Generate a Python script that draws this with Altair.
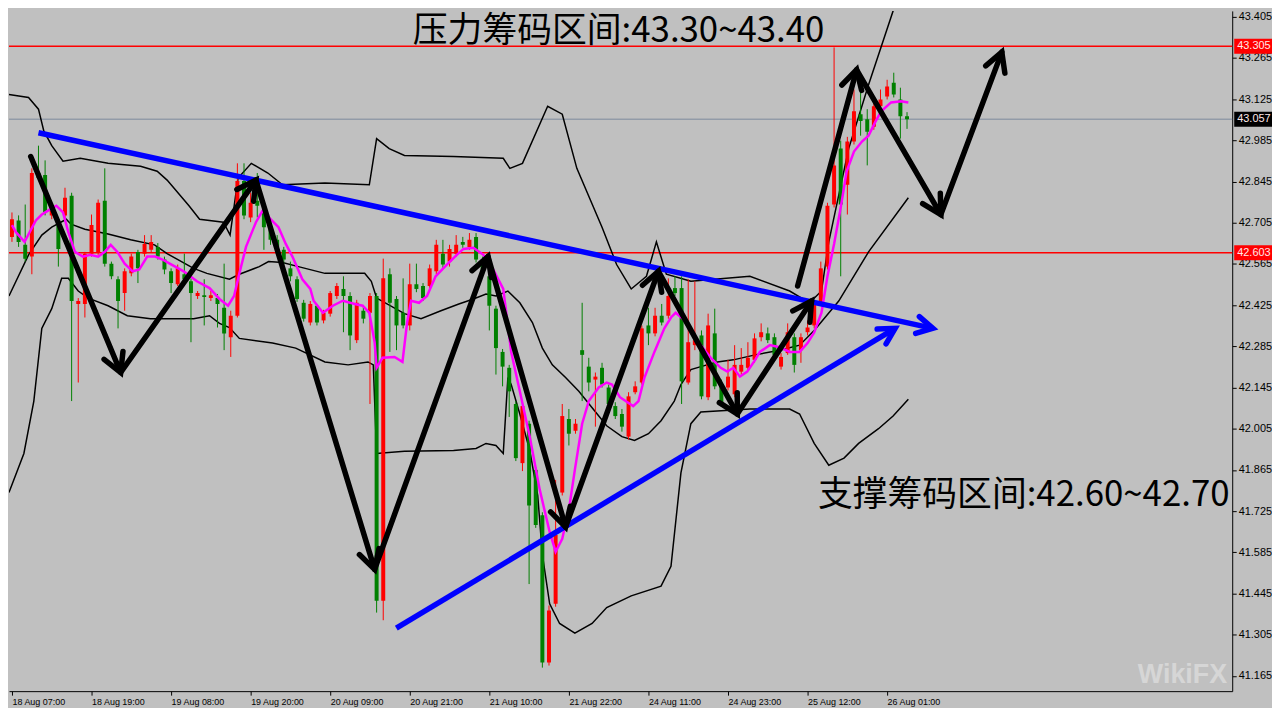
import math
import altair as alt
import pandas as pd

# ---------------- data ----------------
opens = [42.657, 42.713, 42.630, 42.590, 42.874, 42.867, 42.730, 42.700, 42.730, 42.797,
         42.429, 42.429, 42.600, 42.606, 42.780, 42.566, 42.513, 42.466, 42.533, 42.606,
         42.600, 42.613, 42.623, 42.580, 42.540, 42.496, 42.530, 42.506, 42.456, 42.459,
         42.449, 42.449, 42.416, 42.316, 42.389, 42.847, 42.723, 42.780, 42.747, 42.690,
         42.647, 42.613, 42.550, 42.513, 42.433, 42.366, 42.423, 42.373, 42.396, 42.456,
         42.480, 42.456, 42.306, 42.406, 42.399, 42.456, 41.420, 42.530, 42.446, 42.399,
         42.356, 42.496, 42.490, 42.490, 42.540, 42.600, 42.573, 42.600, 42.640, 42.623,
         42.657, 42.580, 42.523, 42.413, 42.266, 42.212, 42.089, 41.888, 42.022, 41.865,
         41.711, 41.210, 41.410, 41.788, 42.038, 41.998, 42.272, 42.216, 42.172, 42.212,
         42.145, 42.082, 42.055, 41.978, 42.129, 42.162, 42.356, 42.329, 42.389, 42.389,
         42.483, 42.483, 42.162, 42.289, 42.322, 42.112, 42.329, 42.155, 42.145, 42.122,
         42.199, 42.212, 42.239, 42.316, 42.329, 42.316, 42.216, 42.262, 42.316, 42.272,
         42.333, 42.356, 42.433, 42.556, 42.767, 42.957, 42.834, 42.981, 43.074, 43.057,
         43.031, 43.101, 43.134, 43.181, 43.124, 43.067]
closes = [42.717, 42.640, 42.583, 42.874, 42.857, 42.740, 42.747, 42.616, 42.790, 42.439,
          42.439, 42.600, 42.697, 42.773, 42.566, 42.523, 42.439, 42.540, 42.590, 42.550,
          42.633, 42.640, 42.590, 42.546, 42.500, 42.550, 42.513, 42.466, 42.466, 42.453,
          42.459, 42.429, 42.329, 42.389, 42.847, 42.730, 42.773, 42.763, 42.690, 42.647,
          42.623, 42.580, 42.523, 42.446, 42.379, 42.429, 42.366, 42.399, 42.466, 42.490,
          42.456, 42.322, 42.433, 42.379, 42.456, 41.420, 42.516, 42.433, 42.356, 42.356,
          42.496, 42.480, 42.449, 42.550, 42.630, 42.563, 42.616, 42.630, 42.630, 42.647,
          42.580, 42.546, 42.423, 42.279, 42.216, 42.132, 41.905, 42.082, 41.744, 41.678,
          41.210, 41.387, 41.644, 42.048, 41.988, 42.022, 42.256, 42.162, 42.182, 42.155,
          42.089, 42.048, 42.012, 42.115, 42.149, 42.346, 42.329, 42.389, 42.366, 42.456,
          42.466, 42.166, 42.299, 42.306, 42.115, 42.356, 42.149, 42.089, 42.182, 42.222,
          42.222, 42.246, 42.312, 42.333, 42.306, 42.256, 42.249, 42.333, 42.222, 42.316,
          42.349, 42.429, 42.550, 42.763, 42.900, 42.767, 42.981, 43.084, 43.051, 43.014,
          43.101, 43.124, 43.168, 43.141, 43.067, 43.057]
highs = [42.740, 42.730, 42.767, 42.890, 42.967, 42.917, 42.757, 42.707, 42.824, 42.807,
         42.449, 42.606, 42.733, 42.784, 42.890, 42.573, 42.523, 42.550, 42.600, 42.613,
         42.663, 42.663, 42.636, 42.590, 42.550, 42.563, 42.600, 42.516, 42.473, 42.513,
         42.473, 42.463, 42.566, 42.406, 42.907, 42.907, 42.807, 42.874, 42.773, 42.707,
         42.663, 42.623, 42.573, 42.523, 42.443, 42.439, 42.429, 42.409, 42.473, 42.500,
         42.523, 42.469, 42.443, 42.423, 42.466, 42.466, 42.583, 42.550, 42.456, 42.516,
         42.566, 42.566, 42.500, 42.563, 42.647, 42.647, 42.630, 42.663, 42.657, 42.670,
         42.670, 42.590, 42.533, 42.423, 42.276, 42.222, 42.099, 42.095, 42.032, 41.875,
         41.721, 41.404, 41.831, 42.089, 42.072, 42.038, 42.433, 42.246, 42.196, 42.229,
         42.155, 42.095, 42.072, 42.129, 42.166, 42.356, 42.416, 42.416, 42.429, 42.516,
         42.523, 42.523, 42.513, 42.506, 42.339, 42.396, 42.413, 42.172, 42.239, 42.289,
         42.279, 42.299, 42.329, 42.363, 42.349, 42.329, 42.262, 42.363, 42.329, 42.329,
         42.373, 42.439, 42.573, 42.773, 43.301, 42.984, 42.997, 43.158, 43.191, 43.091,
         43.114, 43.158, 43.191, 43.215, 43.164, 43.081]
lows = [42.640, 42.623, 42.573, 42.530, 42.850, 42.730, 42.717, 42.556, 42.717, 42.099,
        42.162, 42.383, 42.590, 42.596, 42.556, 42.513, 42.346, 42.406, 42.523, 42.500,
        42.590, 42.603, 42.580, 42.530, 42.466, 42.490, 42.490, 42.299, 42.446, 42.356,
        42.439, 42.349, 42.272, 42.249, 42.383, 42.717, 42.707, 42.723, 42.613, 42.630,
        42.606, 42.563, 42.506, 42.436, 42.369, 42.356, 42.356, 42.363, 42.386, 42.446,
        42.333, 42.272, 42.296, 42.363, 42.089, 41.380, 41.354, 42.266, 42.272, 42.346,
        42.339, 42.469, 42.439, 42.480, 42.530, 42.550, 42.556, 42.590, 42.620, 42.613,
        42.570, 42.536, 42.339, 42.189, 42.149, 42.045, 41.895, 41.861, 41.477, 41.668,
        41.193, 41.200, 41.400, 41.778, 41.948, 41.988, 42.099, 42.132, 42.012, 42.145,
        42.079, 42.038, 41.995, 41.968, 42.122, 42.155, 42.289, 42.319, 42.356, 42.379,
        42.456, 42.089, 42.155, 42.272, 42.105, 42.102, 42.139, 42.079, 42.135, 42.112,
        42.189, 42.202, 42.229, 42.302, 42.296, 42.246, 42.206, 42.256, 42.196, 42.229,
        42.322, 42.346, 42.423, 42.546, 42.757, 42.523, 42.733, 42.971, 43.001, 42.900,
        43.021, 43.091, 43.124, 43.131, 42.991, 43.024]

tick_idx = [0, 12, 24, 36, 48, 60, 72, 84, 96, 108, 120, 132]
tick_labels = ["18 Aug 07:00", "18 Aug 19:00", "19 Aug 08:00", "19 Aug 20:00",
               "20 Aug 09:00", "20 Aug 21:00", "21 Aug 10:00", "21 Aug 22:00",
               "24 Aug 11:00", "24 Aug 23:00", "25 Aug 12:00", "26 Aug 01:00"]
price_ticks = [43.405, 43.265, 43.125, 42.985, 42.845, 42.705, 42.565, 42.425, 42.285,
               42.145, 42.005, 41.865, 41.725, 41.585, 41.445, 41.305, 41.165]

# pink moving average (bar index, price)
ma_idx = [0, 0.6, 1.9, 3.6, 4.5, 5.5, 6.7, 7.7, 8.5, 9.5, 10.7, 11.8, 13.0, 14.0, 14.9, 15.9,
          17.0, 18.2, 19.2, 20.4, 21.6, 22.7, 23.8, 25.9, 27.9, 29.8, 31.3, 32.6, 33.5, 34.3,
          35.3, 36.8, 37.9, 39.0, 40.2, 41.3, 42.3, 43.8, 45.0, 45.5, 46.9, 48.4, 49.9, 51.7,
          52.9, 53.9, 54.7, 55.0, 55.9, 57.7, 58.9, 59.6, 60.2, 61.4, 62.6, 63.9, 65.6, 67.1,
          68.1, 69.6, 71.1, 72.6, 74.1, 75.3, 76.6, 78.1, 79.6, 81.1, 82.0, 83.0, 84.1, 84.9,
          86.0, 87.0, 88.5, 89.7, 90.5, 91.7, 93.7, 94.5, 95.4, 96.9, 98.4, 99.4, 100.1, 101.2,
          102.4, 103.9, 105.4, 106.9, 107.9, 108.8, 109.8, 110.9, 112.1, 112.8, 114.3, 115.8,
          117.3, 118.8, 120.0, 121.0, 122.1, 123.0, 124.0, 125.0, 125.9, 127.0, 128.2, 129.2,
          130.2, 131.1, 132.6, 134.1, 135.2]
ma_val = [42.697, 42.673, 42.640, 42.713, 42.733, 42.747, 42.763, 42.740, 42.673, 42.606,
          42.590, 42.596, 42.590, 42.606, 42.630, 42.606, 42.566, 42.540, 42.546, 42.590,
          42.590, 42.580, 42.566, 42.540, 42.506, 42.483, 42.446, 42.423, 42.456, 42.533,
          42.623, 42.707, 42.750, 42.717, 42.690, 42.633, 42.590, 42.513, 42.480, 42.440,
          42.399, 42.423, 42.440, 42.429, 42.423, 42.399, 42.299, 42.212, 42.246, 42.249,
          42.232, 42.366, 42.440, 42.433, 42.456, 42.523, 42.563, 42.596, 42.616, 42.620,
          42.596, 42.546, 42.480, 42.266, 42.132, 41.978, 41.798, 41.654, 41.587, 41.631,
          41.744, 41.865, 42.022, 42.099, 42.145, 42.162, 42.155, 42.112, 42.082, 42.099,
          42.179, 42.266, 42.346, 42.383, 42.399, 42.379, 42.339, 42.289, 42.246, 42.212,
          42.199, 42.212, 42.182, 42.199, 42.239, 42.266, 42.289, 42.282, 42.266, 42.266,
          42.296, 42.332, 42.399, 42.523, 42.633, 42.757, 42.880, 42.947, 42.981, 43.001,
          43.047, 43.084, 43.114, 43.118, 43.114]

# black bands: upper / middle / lower
up_idx = [-0.45, 2.5, 4.0, 4.8, 6.0, 7.7, 10.3, 14.5, 19.4, 21.9, 23.4, 26.7, 28.3, 31.9, 32.9,
          34.1, 36.1, 38.6, 40.8, 47.2, 53.9, 55.0, 56.9, 59.2, 66.6, 74.1, 75.1, 77.0, 80.8,
          83.0, 85.2, 89.0, 91.2, 93.4, 95.7, 97.2, 98.7, 102.4, 111.3, 117.3, 120.3, 122.1,
          123.2, 126.2, 129.2, 132.9, 135.9]
up_val = [43.141, 43.131, 43.091, 43.017, 42.967, 42.914, 42.924, 42.907, 42.897, 42.880,
          42.850, 42.763, 42.717, 42.707, 42.663, 42.857, 42.907, 42.874, 42.834, 42.840,
          42.834, 42.991, 42.957, 42.934, 42.930, 42.924, 42.890, 42.907, 43.101, 43.074,
          42.890, 42.690, 42.563, 42.480, 42.523, 42.640, 42.530, 42.506, 42.523, 42.473,
          42.433, 42.473, 42.640, 42.957, 43.174, 43.425, 43.625]
mid_idx = [-0.45, 2.5, 4.5, 6.0, 8.2, 8.9, 11.0, 14.5, 17.9, 21.5, 23.4, 27.4, 29.4, 32.8, 34.3,
           37.3, 38.7, 40.8, 43.2, 47.2, 53.2, 54.2, 55.0, 59.2, 61.7, 64.7, 67.4, 69.6, 71.5,
           73.0, 74.8, 76.6, 78.5, 80.0, 81.5, 83.5, 85.5, 87.9, 89.7, 92.0, 93.9, 96.0, 97.9,
           99.9, 100.9, 102.4, 103.9, 106.4, 108.8, 112.1, 115.8, 118.8, 121.0, 124.7, 129.2,
           135.2]
mid_val = [42.456, 42.596, 42.663, 42.690, 42.717, 42.700, 42.683, 42.667, 42.647, 42.630,
           42.600, 42.550, 42.533, 42.513, 42.530, 42.556, 42.573, 42.570, 42.556, 42.533,
           42.533, 42.506, 42.449, 42.396, 42.379, 42.406, 42.429, 42.446, 42.463, 42.456,
           42.473, 42.433, 42.366, 42.279, 42.222, 42.179, 42.132, 42.065, 42.015, 41.978,
           41.965, 41.988, 42.032, 42.099, 42.155, 42.206, 42.216, 42.232, 42.239, 42.256,
           42.272, 42.289, 42.339, 42.439, 42.606, 42.790]
lo_idx = [-0.45, 1.8, 3.3, 4.5, 6.0, 7.5, 8.5, 10.0, 11.5, 14.5, 17.4, 20.9, 27.4, 29.8, 31.3,
          32.8, 34.3, 39.3, 42.8, 47.2, 50.7, 53.7, 54.5, 55.0, 59.2, 66.6, 70.0, 71.5, 73.0,
          74.1, 74.8, 75.3, 76.6, 78.1, 79.3, 80.0, 81.1, 82.6, 84.9, 87.5, 89.7, 93.4, 97.9,
          99.4, 100.9, 102.4, 103.9, 111.3, 117.3, 118.8, 121.0, 123.2, 125.5, 127.7, 130.7,
          132.9, 135.2]
lo_val = [41.788, 41.921, 42.099, 42.346, 42.413, 42.516, 42.516, 42.473, 42.449, 42.423,
          42.389, 42.379, 42.379, 42.389, 42.363, 42.349, 42.312, 42.296, 42.279, 42.232,
          42.222, 42.232, 42.222, 41.921, 41.928, 41.931, 41.938, 41.955, 41.948, 41.921,
          42.179, 42.155, 42.055, 41.931, 41.778, 41.577, 41.410, 41.343, 41.310, 41.343,
          41.397, 41.437, 41.470, 41.537, 41.855, 42.022, 42.062, 42.072, 42.072, 42.055,
          41.955, 41.881, 41.905, 41.955, 42.005, 42.048, 42.105]

# drawn annotations (bar index, price)
zig_a_idx = [2.83, 16.4, 36.8, 54.7, 71.8, 83.5, 97.5, 109.4, 120.6]
zig_a_p = [42.930, 42.196, 42.850, 41.527, 42.590, 41.671, 42.540, 42.055, 42.439]
zig_b_idx = [118.5, 127.4, 140.1, 149.3]
zig_b_p = [42.490, 43.225, 42.733, 43.285]
blue_dn_idx = [4.0, 138.9]
blue_dn_p = [43.011, 42.346]
blue_up_idx = [57.97, 133.2]
blue_up_p = [41.327, 42.346]

red_levels = [43.305, 42.603]
bid_level = 43.057

texts = ["压力筹码区间:43.30~43.40", "支撑筹码区间:42.60~42.70"]
text_idx = [91.5, 152.6]
text_p = [43.356, 41.781]

# ---------------- chart setup ----------------
W, H = 1230, 684
X0, X1 = -0.447, 184.05
Y0, Y1 = 41.113, 43.425
PX_I = W / (X1 - X0)
PX_P = H / (Y1 - Y0)

label_expr = "[" + ",".join("'%s'" % s for s in tick_labels) + "][round(datum.value/12)]"
XS = alt.Scale(domain=[X0, X1], nice=False, zero=False)
YS = alt.Scale(domain=[Y0, Y1], nice=False, zero=False)
XAX = alt.Axis(values=tick_idx, labelExpr=label_expr, title=None, grid=False,
               labelAlign="left", labelBaseline="top", labelPadding=2, labelFlush=False,
               labelFont="Liberation Sans", labelFontSize=9, labelColor="black",
               tickColor="black", tickSize=4, domainColor="black", domainWidth=1)
YAX = alt.Axis(orient="right", values=price_ticks, format=".3f", title=None, grid=False,
               labelFont="Liberation Sans", labelFontSize=11, labelColor="black",
               labelPadding=2, labelFlush=False, tickColor="black", tickSize=4,
               domainColor="black", domainWidth=1)


def X(f):
    return alt.X(f, type="quantitative", scale=XS, axis=XAX)


def Y(f):
    return alt.Y(f, type="quantitative", scale=YS, axis=YAX)


n = len(opens)
candles = pd.DataFrame({
    "i": list(range(n)), "o": opens, "h": highs, "l": lows, "c": closes,
    "dir": ["up" if c >= o else "down" for o, c in zip(opens, closes)],
})
col = alt.Color("dir:N", scale=alt.Scale(domain=["up", "down"], range=["#ff0000", "#008000"]),
                legend=None)

wicks = alt.Chart(candles).mark_rule(strokeWidth=1, clip=True).encode(
    x=X("i"), y=Y("l"), y2=alt.Y2("h"), color=col)
bodies = alt.Chart(candles).mark_rule(strokeWidth=4, strokeCap="butt", clip=True).encode(
    x=X("i"), y=Y("o"), y2=alt.Y2("c"), color=col)

levels = pd.DataFrame({"p": red_levels})
red_rules = alt.Chart(levels).mark_rule(color="#ff0000", strokeWidth=1.6).encode(y=Y("p"))
bid_rule = alt.Chart(pd.DataFrame({"p": [bid_level]})).mark_rule(
    color="#7d8a9c", strokeWidth=1).encode(y=Y("p"))


def series(idx, val, name):
    return pd.DataFrame({"i": idx, "p": val, "k": name, "ord": list(range(len(idx)))})


bands = pd.concat([series(up_idx, up_val, "up"), series(mid_idx, mid_val, "mid"),
                   series(lo_idx, lo_val, "lo")])
band_lines = alt.Chart(bands).mark_line(color="black", strokeWidth=1.5, clip=True).encode(
    x=X("i"), y=Y("p"), detail="k:N", order="ord:Q")

ma_line = alt.Chart(series(ma_idx, ma_val, "ma")).mark_line(
    color="#ff00ff", strokeWidth=2.5, clip=True).encode(x=X("i"), y=Y("p"), order="ord:Q")

blue = pd.concat([series(blue_dn_idx, blue_dn_p, "dn"), series(blue_up_idx, blue_up_p, "upl")])
blue_lines = alt.Chart(blue).mark_line(color="#0000ff", strokeWidth=5.5, clip=True).encode(
    x=X("i"), y=Y("p"), detail="k:N", order="ord:Q")

zig = pd.concat([series(zig_a_idx, zig_a_p, "a"), series(zig_b_idx, zig_b_p, "b")])
zig_lines = alt.Chart(zig).mark_line(color="black", strokeWidth=5.5, strokeCap="round",
                                     strokeJoin="round", clip=True).encode(
    x=X("i"), y=Y("p"), detail="k:N", order="ord:Q")


def heads(idx, val, every=True):
    rows = []
    rng = range(1, len(idx)) if every else [len(idx) - 1]
    for k in rng:
        dx = (idx[k] - idx[k - 1]) * PX_I
        dy = -(val[k] - val[k - 1]) * PX_P
        ang = math.degrees(math.atan2(dx, -dy)) % 360
        rows.append({"i": idx[k], "p": val[k], "ang": ang})
    return rows


CHEV = "M -0.55 1 L 0 0 L 0.55 1"
black_heads = pd.DataFrame(heads(zig_a_idx, zig_a_p) + heads(zig_b_idx, zig_b_p))
blue_heads = pd.DataFrame(heads(blue_dn_idx, blue_dn_p, False) + heads(blue_up_idx, blue_up_p, False))

black_head_marks = alt.Chart(black_heads).mark_point(
    shape=CHEV, filled=False, size=1400, strokeWidth=5.5, color="black", opacity=1,
    strokeJoin="miter", strokeCap="round").encode(
    x=X("i"), y=Y("p"), angle=alt.Angle("ang:Q", scale=None))
blue_head_marks = alt.Chart(blue_heads).mark_point(
    shape=CHEV, filled=False, size=1000, strokeWidth=5.5, color="#0000ff", opacity=1,
    strokeJoin="miter", strokeCap="round").encode(
    x=X("i"), y=Y("p"), angle=alt.Angle("ang:Q", scale=None))

txt = alt.Chart(pd.DataFrame({"t": texts, "i": text_idx, "p": text_p})).mark_text(
    font="Noto Sans CJK SC", fontSize=35, color="black", align="center",
    baseline="middle").encode(x=X("i"), y=Y("p"), text="t:N")

# price boxes on the right axis
half = 7.5 / PX_P
box_df = pd.DataFrame({
    "p": [red_levels[0], bid_level, red_levels[1]],
    "lab": ["%.3f" % red_levels[0], "%.3f" % bid_level, "%.3f" % red_levels[1]],
    "fill": ["#ff0000", "#000000", "#ff0000"],
})
box_df["p1"] = box_df["p"] + half
box_df["p0"] = box_df["p"] - half
boxes = alt.Chart(box_df).mark_rect().encode(
    x=alt.value(W + 2), x2=alt.value(W + 40), y=Y("p1"), y2=alt.Y2("p0"),
    color=alt.Color("fill:N", scale=None))
box_txt = alt.Chart(box_df).mark_text(font="Liberation Sans", fontSize=11, color="#ffe8e8",
                                      align="left", baseline="middle").encode(
    x=alt.value(W + 5), y=Y("p"), text="lab:N")

wm = alt.Chart(pd.DataFrame({"t": ["WikiFX"]})).mark_text(
    font="Liberation Sans", fontSize=27, fontWeight="bold", color="white", opacity=0.35,
    align="center", baseline="middle").encode(x=alt.value(W - 50), y=alt.value(H - 16), text="t:N")

chart = alt.layer(
    red_rules, bid_rule, band_lines, wicks, bodies, ma_line, blue_lines, blue_head_marks,
    zig_lines, black_head_marks, txt, boxes, box_txt, wm
).properties(width=W, height=H, background="#c0c0c0", padding=0).configure_view(
    strokeWidth=0, fill="#c0c0c0")

chart.save("out.html", embed_options={"renderer": "svg", "actions": False})
